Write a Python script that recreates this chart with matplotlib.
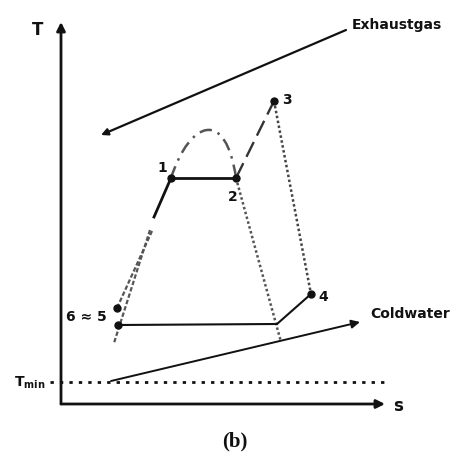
import matplotlib
matplotlib.use("Agg")
import matplotlib.pyplot as plt
from matplotlib.path import Path
from matplotlib.patches import PathPatch, FancyArrowPatch

# Schematic T-s diagram of an organic Rankine cycle (coordinates in drawing units)
W, H = 453, 461

# Cycle state points
state_labels = ["1", "2", "3", "4"]
state_s = [171, 236, 274, 311]
state_T = [178, 178, 101, 294]
label_s = [162, 233, 287, 323]
label_T = [168, 197, 100, 297]

# Condensation end point and pump outlet (6 ≈ 5)
cond_end_s, cond_end_T = 277, 324
pump_s = [118, 117]
pump_T = [325, 308]

# Saturation dome (Bezier control points) and its extensions
dome_s = [171, 190, 226, 236]
dome_T = [178, 120, 108, 178]
liq_line_s = [154, 171]
liq_line_T = [217, 178]
liq_ext_s = [150, 114]
liq_ext_T = [230, 343]
pump_line_s = [152, 117]
pump_line_T = [231, 308]
vap_ext_s = [236, 281]
vap_ext_T = [178, 342]

# Heat source / sink streams
exhaust_s = [346, 101]
exhaust_T = [30, 135]
coldwater_s = [111, 360]
coldwater_T = [381, 322]
tmin_T = 382
tmin_s = [50, 385]

# Axes frame
axis_origin = (61, 404)
axis_top = 22
axis_right = 385

fig = plt.figure(figsize=(W / 100, H / 100), dpi=100)
ax = fig.add_axes([0, 0, 1, 1])
ax.set_xlim(0, W)
ax.set_ylim(H, 0)
ax.axis("off")

ink = "#111111"

# Coordinate axes with arrows
ax.add_patch(FancyArrowPatch(axis_origin, (axis_origin[0], axis_top),
                             arrowstyle="-|>,head_length=5,head_width=2.5",
                             color=ink, lw=2, shrinkA=0, shrinkB=0))
ax.add_patch(FancyArrowPatch(axis_origin, (axis_right, axis_origin[1]),
                             arrowstyle="-|>,head_length=5,head_width=2.5",
                             color=ink, lw=2, shrinkA=0, shrinkB=0))

# Minimum temperature line
ax.plot(tmin_s, [tmin_T, tmin_T], color=ink, lw=2, ls=(0, (1.2, 2.2)))

# Exhaust gas stream
ax.add_patch(FancyArrowPatch((exhaust_s[0], exhaust_T[0]), (exhaust_s[1], exhaust_T[1]),
                             arrowstyle="-|>,head_length=4,head_width=2",
                             color=ink, lw=1.6, shrinkA=0, shrinkB=0))
# Cold water stream
ax.add_patch(FancyArrowPatch((coldwater_s[0], coldwater_T[0]), (coldwater_s[1], coldwater_T[1]),
                             arrowstyle="-|>,head_length=5,head_width=2.5",
                             color=ink, lw=1.4, shrinkA=0, shrinkB=0))

# Saturation dome
dome = Path(list(zip(dome_s, dome_T)), [Path.MOVETO, Path.CURVE4, Path.CURVE4, Path.CURVE4])
ax.add_patch(PathPatch(dome, fill=False, edgecolor="#555555", lw=1.8,
                       ls=(0, (5, 2.5, 1, 2.5))))
ax.plot(liq_line_s, liq_line_T, color=ink, lw=2)
ax.plot(liq_ext_s, liq_ext_T, color="#555555", lw=1.6, ls=(0, (2, 1)))
ax.plot(pump_line_s, pump_line_T, color="#555555", lw=1.6, ls=(0, (2, 1)))
ax.plot(vap_ext_s, vap_ext_T, color="#555555", lw=1.8, ls=(0, (1, 1)))

# Cycle processes
ax.plot(state_s[0:2], state_T[0:2], color=ink, lw=2)                     # evaporation 1-2
ax.plot(state_s[1:3], state_T[1:3], color="#333333", lw=1.7, ls=(0, (7, 3)))  # superheat 2-3
ax.plot(state_s[2:4], state_T[2:4], color="#444444", lw=1.8, ls=(0, (1, 1)))  # expansion 3-4
ax.plot([state_s[3], cond_end_s], [state_T[3], cond_end_T], color=ink, lw=1.5)
ax.plot([pump_s[0], cond_end_s], [pump_T[0], cond_end_T], color=ink, lw=1.5)

# State markers
ax.plot(state_s, state_T, "o", color=ink, ms=5)
ax.plot(pump_s, pump_T, "o", color=ink, ms=5)

bold = dict(fontweight="bold", color=ink)
for lab, x, y in zip(state_labels, label_s, label_T):
    ax.text(x, y, lab, fontsize=10, ha="center", va="center", **bold)
ax.text(107, 317, "6 \u2248 5", fontsize=10, ha="right", va="center", **bold)

ax.text(38, 30, "T", fontsize=12, ha="center", va="center", **bold)
ax.text(398, 406, "s", fontsize=12, ha="center", va="center", **bold)
ax.text(14, 383, "T$_{\\mathbf{min}}$", fontsize=10, ha="left", va="center", **bold)
ax.text(397, 25, "Exhaustgas", fontsize=10, ha="center", va="center", **bold)
ax.text(410, 314, "Coldwater", fontsize=10, ha="center", va="center", **bold)
ax.text(235, 441, "(b)", fontsize=15, ha="center", va="center",
        family=["Liberation Serif", "DejaVu Serif"], **bold)

fig.savefig("out.png", dpi=100)
